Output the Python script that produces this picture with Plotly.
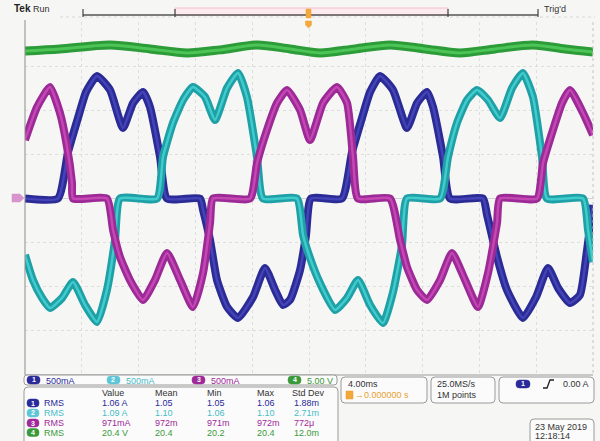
import plotly.graph_objects as go

# ---------------- data ----------------
# time in ms (4 ms/div, trigger at 0), current in A (500 mA/div)
blue_t = [-20.00, -17.68, -16.97, -16.27, -15.70, -14.93, -14.01, -13.10, -12.39, -11.69,
          -11.20, -10.49, -10.00, -7.68, -7.46, -6.97, -6.48, -5.77, -5.00, -3.94,
          -3.10, -2.39, -1.83, -1.34, -0.63, -0.21, 0.14, 2.32, 3.03, 3.73,
          4.30, 5.00, 5.92, 6.90, 7.61, 8.31, 8.73, 9.44, 9.93, 12.25,
          12.54, 13.24, 13.94, 15.07, 15.99, 16.83, 17.54, 18.38, 19.08, 19.58, 20.00]
blue_i = [0.0, 0.0, 0.527, 0.912, 1.207, 1.388, 1.229, 0.799, 1.082, 1.207,
          1.037, 0.470, 0.0, 0.0, -0.130, -0.470, -0.924, -1.229, -1.354, -1.116,
          -0.788, -1.037, -1.207, -1.150, -0.810, -0.414, 0.0, 0.0, 0.527, 0.912,
          1.207, 1.388, 1.229, 0.799, 1.082, 1.207, 1.037, 0.470, 0.0, 0.0,
          -0.187, -0.663, -1.037, -1.354, -1.116, -0.788, -1.014, -1.184, -1.093, -0.584, -0.074]

cyan_t = [-20.00, -19.44, -18.80, -18.24, -17.39, -16.62, -15.77, -14.93, -14.23, -13.66,
          -13.31, -10.70, -10.28, -9.58, -8.87, -8.17, -7.32, -6.62, -5.77, -5.00,
          -4.37, -3.66, -3.24, -0.85, -0.42, 0.07, 0.77, 1.83, 2.68, 3.45,
          4.30, 5.21, 5.92, 6.55, 6.90, 9.23, 9.79, 10.42, 11.13, 11.83,
          12.61, 13.45, 14.30, 15.07, 15.77, 16.41, 16.76, 19.30, 19.65, 20.00]
cyan_i = [-0.640, -0.924, -1.127, -1.241, -1.127, -0.946, -1.207, -1.399, -1.037, -0.470,
          0.0, 0.0, 0.470, 0.856, 1.116, 1.263, 1.150, 0.890, 1.252, 1.422,
          1.150, 0.470, 0.0, 0.0, -0.414, -0.674, -0.958, -1.263, -1.127, -0.924,
          -1.207, -1.411, -1.059, -0.527, 0.0, 0.0, 0.470, 0.856, 1.116, 1.229,
          1.116, 0.912, 1.252, 1.422, 1.150, 0.470, 0.0, 0.0, -0.357, -0.720]

mag_t = [-20.00, -19.15, -18.24, -17.54, -17.04, -16.69, -16.62, -14.23, -13.80, -13.31,
         -12.61, -11.69, -10.85, -10.00, -9.08, -8.17, -7.46, -6.97, -6.76, -4.15,
         -3.66, -2.96, -2.25, -1.55, -0.63, 0.07, 0.99, 1.97, 2.68, 3.10,
         3.45, 5.70, 6.41, 6.90, 7.61, 8.31, 9.23, 10.07, 10.99, 11.90,
         12.61, 13.24, 13.45, 16.06, 16.48, 17.18, 17.82, 18.38, 19.30, 20.00]
mag_i = [0.663, 1.037, 1.263, 0.969, 0.584, 0.176, 0.0, 0.0, -0.357, -0.663,
         -0.924, -1.150, -0.924, -0.618, -0.924, -1.229, -0.844, -0.278, 0.0, 0.0,
         0.402, 0.776, 1.082, 1.229, 1.003, 0.663, 1.082, 1.263, 1.082, 0.470,
         0.0, 0.0, -0.470, -0.776, -1.037, -1.150, -0.924, -0.618, -0.924, -1.229,
         -0.844, -0.278, 0.0, 0.0, 0.402, 0.776, 1.082, 1.229, 0.969, 0.720]

# channel 4 (bus voltage), V (5 V/div)
green_t = [-20.00, -17.54, -14.01, -11.20, -8.59, -6.27, -3.66, -1.34, 0.77, 3.24,
           5.70, 8.17, 10.63, 13.10, 15.77, 18.03, 20.00]
green_v = [20.12, 20.35, 20.80, 20.35, 19.90, 20.24, 20.80, 20.35, 19.90, 20.35,
           20.80, 20.35, 19.90, 20.35, 20.80, 20.35, 20.01]

# readouts
ch_scale = ["500mA", "500mA", "500mA", "5.00 V"]
meas_header = ["Value", "Mean", "Min", "Max", "Std Dev"]
meas_rows = [["1.06 A", "1.05", "1.05", "1.06", "1.88m"],
             ["1.09 A", "1.10", "1.06", "1.10", "2.71m"],
             ["971mA", "972m", "971m", "972m", "772\u03bc"],
             ["20.4 V", "20.4", "20.2", "20.4", "12.0m"]]
horiz_scale = "4.00ms"
horiz_pos = "\u21920.000000 s"
sample_rate = "25.0MS/s"
rec_len = "1M points"
trig_level = "0.00 A"
date_str = "23 May 2019"
time_str = "12:18:14"

# ---------------- layout / style ----------------
W, H = 600, 441
ML, MR, MT, MB = 25, 7, 22, 66
PW = W - ML - MR
PH = H - MT - MB


def px(x):
    return (x - ML) / PW


def py(y):
    return (H - MB - y) / PH


CH_BAND = ["#2b2b96", "#1fa0a6", "#9c2a96", "#2c9c38"]
CH_CORE = ["#4444b8", "#40cccc", "#c447b4", "#4cc456"]
CH_TEXT = ["#2a2a9a", "#48bcc8", "#a0289a", "#3a9a3a"]
PILL = ["#2a2a9a", "#5ec6d6", "#a0289a", "#3a9a3a"]
FONT = "Liberation Sans"
BG = "#f6f6f4"

fig = go.Figure()

series = [(blue_t, blue_i, 0), (cyan_t, cyan_i, 1), (mag_t, mag_i, 2)]
for t, i, k in series:
    fig.add_trace(go.Scatter(x=t, y=i, mode="lines",
                             line=dict(color=CH_BAND[k], width=8, shape="spline", smoothing=0.5),
                             hoverinfo="skip", showlegend=False))
    fig.add_trace(go.Scatter(x=t, y=i, mode="lines",
                             line=dict(color=CH_CORE[k], width=2.5, shape="spline", smoothing=0.5),
                             hoverinfo="skip", showlegend=False))

fig.add_trace(go.Scatter(x=green_t, y=green_v, yaxis="y2", mode="lines",
                         line=dict(color=CH_BAND[3], width=9, shape="spline", smoothing=0.8),
                         hoverinfo="skip", showlegend=False))
fig.add_trace(go.Scatter(x=green_t, y=green_v, yaxis="y2", mode="lines",
                         line=dict(color=CH_CORE[3], width=3, shape="spline", smoothing=0.8),
                         hoverinfo="skip", showlegend=False))

shapes = []
ann = []


def rrect(x0, y0, x1, y1, r, line, fill, width=1.0):
    X, Y = px, py
    p = (f"M {X(x0 + r)},{Y(y0)} L {X(x1 - r)},{Y(y0)} Q {X(x1)},{Y(y0)} {X(x1)},{Y(y0 + r)} "
         f"L {X(x1)},{Y(y1 - r)} Q {X(x1)},{Y(y1)} {X(x1 - r)},{Y(y1)} "
         f"L {X(x0 + r)},{Y(y1)} Q {X(x0)},{Y(y1)} {X(x0)},{Y(y1 - r)} "
         f"L {X(x0)},{Y(y0 + r)} Q {X(x0)},{Y(y0)} {X(x0 + r)},{Y(y0)} Z")
    return dict(type="path", xref="paper", yref="paper", path=p,
                line=dict(color=line, width=width), fillcolor=fill, layer="above")


def txt(x, y, s, color="#333333", size=9, anchor="left", bold=False):
    ann.append(dict(x=px(x), y=py(y), xref="paper", yref="paper", text=f"<b>{s}</b>" if bold else s,
                    showarrow=False, xanchor=anchor, yanchor="middle",
                    font=dict(family=FONT, size=size, color=color)))


def pill(x0, y0, k, w=13, h=8):
    shapes.append(rrect(x0, y0, x0 + w, y0 + h, 3.5, PILL[k], PILL[k], 0.5))
    txt(x0 + w / 2, y0 + h / 2, str(k + 1), "#ffffff", 7, "center", True)


def pline(x0, y0, x1, y1, color, width=1, dash="solid"):
    shapes.append(dict(type="line", xref="paper", yref="paper", x0=px(x0), y0=py(y0),
                       x1=px(x1), y1=py(y1), line=dict(color=color, width=width, dash=dash),
                       layer="above"))


# graticule frame
pline(25, 20, 25, 375, "#8c8c8c", 1)
pline(593, 22, 593, 375, "#c4c4c4", 1, "dot")
pline(25, 375, 593, 375, "#9a9a9a", 1)

# top status bar
txt(12, 9, "Tek", "#222222", 10, bold=True)
txt(31, 9, "Run", "#333333", 9)
shapes.append(dict(type="rect", xref="paper", yref="paper", x0=px(175), x1=px(448), y0=py(15),
                   y1=py(8), line=dict(color="#f0b8c6", width=0.8), fillcolor="#fbeaee", layer="above"))
pline(83, 15, 538, 15, "#555555", 1.5)
pline(60, 17, 595, 17, "#d8d8d8", 1, "dot")
for xt in (83, 175, 448, 538):
    pline(xt, 9, xt, 17, "#444444", 1.2)
shapes.append(dict(type="rect", xref="paper", yref="paper", x0=px(306), x1=px(311), y0=py(18),
                   y1=py(9), line=dict(color="#f0a030", width=0.5), fillcolor="#f4a83a", layer="above"))
shapes.append(dict(type="path", xref="paper", yref="paper",
                   path=f"M {px(305.5)},{py(21)} L {px(311.5)},{py(21)} L {px(311.5)},{py(25)} "
                        f"L {px(308.5)},{py(28)} L {px(305.5)},{py(25)} Z",
                   line=dict(color="#f0a030", width=0.5), fillcolor="#f4a83a", layer="above"))
txt(542, 9, "Trig'd", "#333333", 9)

# channel zero marker
shapes.append(dict(type="path", xref="paper", yref="paper",
                   path=f"M {px(12)},{py(194)} L {px(20)},{py(194)} L {px(24)},{py(198)} "
                        f"L {px(20)},{py(202)} L {px(12)},{py(202)} Z",
                   line=dict(color="#d48cc8", width=0.5), fillcolor="#d894cc", layer="above"))

# channel scale row
shapes.append(rrect(24, 375, 337, 385, 3, "#9a9a9a", "#fbfbfb", 1))
scale_x = [27, 107, 192, 288]
for k in range(4):
    pill(scale_x[k], 376, k)
    txt(scale_x[k] + 17, 380.5, ch_scale[k], CH_TEXT[k], 9)

# measurement table
shapes.append(rrect(24, 387, 338, 446, 4, "#9a9a9a", "#fbfbfb", 1))
col_x = [100, 153, 205, 255, 290]
for j, h in enumerate(meas_header):
    txt(col_x[j], 393, h, "#333333", 9)
row_y = [403, 413, 423, 432.5]
for k in range(4):
    pill(27, row_y[k] - 4, k, 12, 8)
    txt(42, row_y[k], "RMS", CH_TEXT[k], 9)
    for j, v in enumerate(meas_rows[k]):
        txt(col_x[j] + (2 if j == 4 else 0), row_y[k], v, CH_TEXT[k], 9)

# horizontal box
shapes.append(rrect(341, 377, 427, 403, 4, "#9a9a9a", "#fbfbfb", 1))
txt(346, 384, horiz_scale, "#333333", 9)
shapes.append(dict(type="rect", xref="paper", yref="paper", x0=px(346), x1=px(353), y0=py(399),
                   y1=py(391), line=dict(color="#e89a2a", width=0.5), fillcolor="#f4a83a", layer="above"))
txt(353, 395, horiz_pos, "#e8a030", 9)

# acquisition box
shapes.append(rrect(431, 377, 495, 403, 4, "#9a9a9a", "#fbfbfb", 1))
txt(435, 384, sample_rate, "#333333", 9)
txt(435, 395, rec_len, "#333333", 9)

# trigger box
shapes.append(rrect(499, 377, 594, 403, 4, "#9a9a9a", "#fbfbfb", 1))
pill(516, 380, 0, 14, 8)
shapes.append(dict(type="path", xref="paper", yref="paper",
                   path=f"M {px(543)},{py(388)} L {px(547)},{py(388)} L {px(550)},{py(380)} L {px(554)},{py(380)}",
                   line=dict(color="#222222", width=1.3), layer="above"))
txt(591, 384, trig_level, "#333333", 9, "right")

# date box
shapes.append(rrect(530, 419, 594, 446, 4, "#9a9a9a", "#fbfbfb", 1))
txt(533, 427, date_str, "#333333", 9)
txt(533, 436.5, time_str, "#333333", 9)

fig.update_layout(
    width=W, height=H,
    margin=dict(l=ML, r=MR, t=MT, b=MB, pad=0),
    paper_bgcolor=BG, plot_bgcolor=BG,
    shapes=shapes, annotations=ann,
    xaxis=dict(range=[-20, 20], dtick=4, tick0=0, showgrid=True, gridcolor="#dedede",
               griddash="dot", gridwidth=1, zeroline=False, showticklabels=False, ticks="",
               fixedrange=True),
    yaxis=dict(range=[-2, 2], dtick=0.5, tick0=0, showgrid=True, gridcolor="#dedede",
               griddash="dot", gridwidth=1, zeroline=True, zerolinecolor="#d2d2d2", zerolinewidth=1,
               showticklabels=False, ticks="", fixedrange=True),
    yaxis2=dict(range=[-16.6, 23.4], overlaying="y", showgrid=False, zeroline=False,
                showticklabels=False, ticks="", fixedrange=True),
    showlegend=False,
)

fig.write_html("out.html", config={"displayModeBar": False},
               post_script="document.body.style.margin='0';document.body.style.background='%s';" % BG)
